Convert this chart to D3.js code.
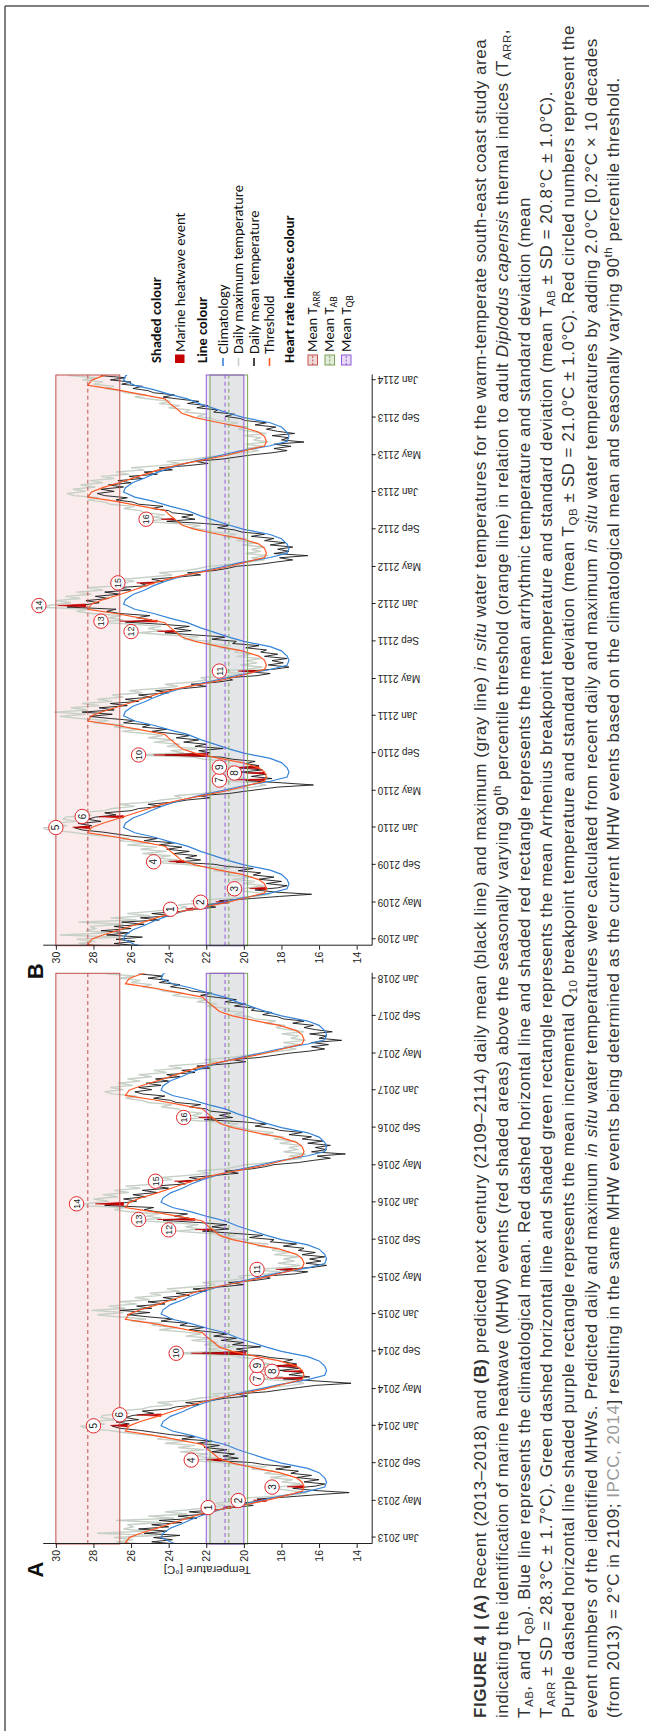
<!DOCTYPE html>
<html>
<head>
<meta charset="utf-8">
<script src="https://cdn.jsdelivr.net/npm/d3@7"></script>
<style>
  body { margin: 0; background: #fff; }
  svg { display: block; }
</style>
</head>
<body>
<svg id="fig"></svg>
<script>
// ---------------------- data ---------------------------
// weekly samples of the recent record, first sample on this date
const startDate = "2012-12-11";
const meanTemp = [
  23.6, 24.9, 23.8,
  // 2013
  24.8, 23.4, 25.3, 24.1, 25.6, 24.0, 24.9, 23.3, 24.5, 22.5, 23.5, 21.8, 22.9,
  21.4, 20.6, 19.5, 20.3, 18.9, 19.3, 17.6, 16.1, 14.4, 16.3, 17.4, 16.2, 15.7,
  16.8, 16.0, 17.2, 16.4, 17.5, 17.1, 18.3, 17.5, 18.9, 19.6, 21.6, 20.3, 21.1,
  20.5, 21.7, 20.9, 22.1, 21.3, 22.5, 21.7, 23.3, 22.6, 23.9, 24.7, 25.5, 26.6,
  // 2014
  27.0, 26.1, 26.8, 25.6, 26.3, 25.9, 24.8, 25.4, 24.0, 23.6, 22.4, 23.1, 21.7,
  21.0, 19.8, 20.4, 18.8, 18.0, 17.1, 16.2, 14.3, 16.0, 17.9, 16.5, 17.6, 16.8,
  18.1, 17.0, 18.3, 17.2, 17.9, 17.4, 18.6, 19.2, 22.2, 19.8, 20.4, 19.1, 20.6,
  20.0, 21.2, 20.4, 21.6, 20.9, 21.8, 22.9, 22.1, 23.4, 23.0, 24.4, 23.8, 25.1,
  // 2015
  26.2, 25.0, 26.6, 24.9, 25.7, 24.2, 25.1, 23.6, 24.3, 22.9, 23.6, 22.0, 22.7,
  21.2, 20.0, 20.8, 19.4, 18.6, 18.9, 17.3, 16.6, 18.1, 16.4, 15.6, 16.7, 15.9,
  16.5, 15.7, 16.9, 16.2, 17.1, 16.8, 17.9, 17.2, 18.6, 18.4, 19.7, 19.0, 20.6,
  22.2, 20.8, 21.7, 20.9, 22.4, 24.3, 22.9, 23.7, 23.0, 24.6, 25.3, 24.8, 27.4,
  // 2016
  26.5, 25.7, 26.4, 25.2, 25.9, 24.6, 25.4, 24.0, 24.8, 23.1, 23.5, 22.3, 22.9,
  21.5, 20.3, 21.0, 19.6, 18.9, 18.4, 17.1, 16.3, 15.4, 16.1, 14.6, 16.4, 15.6,
  16.2, 15.4, 16.6, 15.8, 16.9, 16.4, 17.6, 16.9, 18.1, 18.5, 19.4, 18.8, 20.1,
  22.1, 20.6, 21.3, 20.7, 21.8, 22.0, 22.9, 22.3, 23.6, 23.9, 24.8, 24.2, 25.4,
  // 2017
  25.8, 24.9, 25.6, 24.4, 25.2, 24.0, 24.7, 23.4, 24.1, 22.6, 23.3, 21.8, 22.5,
  21.0, 19.9, 20.6, 19.2, 18.4, 17.6, 16.5, 15.7, 16.4, 15.5, 16.4, 14.8, 16.0,
  15.6, 16.5, 15.3, 16.2, 16.8, 16.3, 17.4, 16.8, 17.9, 18.2, 19.0, 18.5, 19.6,
  19.4, 20.5, 19.9, 21.0, 20.4, 21.4, 22.3, 21.7, 22.8, 23.1, 23.9, 23.4, 24.5, 24.0,
  // 2018
  25.1, 24.3, 25.6
];
const maxTemp = [
  25.4, 26.8, 25.9,
  // 2013
  26.9, 24.6, 27.8, 25.2, 26.4, 25.9, 26.2, 24.4, 26.8, 23.7, 25.1, 23.0, 24.2,
  22.9, 21.8, 21.0, 21.5, 20.3, 20.8, 18.9, 17.4, 16.6, 17.6, 18.5, 17.8, 16.9,
  18.0, 17.4, 18.6, 17.5, 18.9, 18.4, 19.6, 18.8, 20.3, 21.2, 23.0, 21.5, 22.7,
  21.9, 23.4, 22.1, 23.5, 22.6, 24.2, 23.0, 24.6, 24.1, 25.3, 26.4, 27.2, 28.4,
  // 2014
  28.7, 27.4, 28.3, 26.9, 27.6, 27.5, 26.1, 26.9, 25.4, 25.0, 23.8, 24.6, 23.0,
  22.4, 21.3, 21.7, 20.2, 19.4, 18.6, 17.5, 16.8, 17.4, 19.3, 17.9, 19.0, 18.2,
  19.6, 18.3, 19.8, 18.6, 19.3, 18.9, 20.1, 20.7, 23.8, 21.2, 21.9, 20.5, 22.1,
  21.4, 22.8, 21.7, 23.1, 22.3, 23.2, 24.5, 23.5, 24.9, 24.4, 26.0, 25.2, 26.7,
  // 2015
  27.8, 26.4, 28.1, 26.3, 27.2, 25.7, 26.6, 25.0, 25.8, 24.4, 25.0, 23.4, 24.1,
  22.6, 21.5, 22.2, 20.8, 20.0, 20.3, 18.8, 18.1, 19.6, 17.8, 17.0, 18.2, 17.3,
  17.9, 17.1, 18.4, 17.6, 18.5, 18.2, 19.3, 18.7, 20.0, 19.8, 21.2, 20.4, 22.0,
  23.6, 22.3, 23.1, 22.4, 23.9, 25.8, 24.4, 25.2, 24.5, 26.1, 26.9, 26.3, 29.0,
  // 2016
  28.2, 27.2, 28.0, 26.7, 27.5, 26.1, 26.9, 25.5, 26.3, 24.6, 25.1, 23.8, 24.4,
  23.0, 21.8, 22.5, 21.1, 20.4, 19.9, 18.6, 17.8, 16.9, 17.6, 16.7, 17.9, 17.1,
  17.6, 16.9, 18.1, 17.3, 18.4, 17.9, 19.1, 18.4, 19.6, 20.0, 20.9, 20.3, 21.6,
  23.4, 22.1, 22.8, 22.2, 23.3, 23.5, 24.4, 23.8, 25.1, 25.4, 26.3, 25.7, 27.0,
  // 2017
  27.4, 26.4, 27.1, 25.9, 26.7, 25.5, 26.2, 24.9, 25.6, 24.1, 24.8, 23.3, 24.0,
  22.5, 21.4, 22.1, 20.7, 19.9, 19.1, 18.0, 17.2, 17.9, 17.0, 17.9, 16.7, 17.5,
  17.1, 18.0, 16.8, 17.7, 18.3, 17.8, 18.9, 18.3, 19.4, 19.7, 20.5, 20.0, 21.1,
  20.9, 22.0, 21.4, 22.5, 21.9, 22.9, 23.8, 23.2, 24.3, 24.6, 25.4, 24.9, 26.0, 25.5,
  // 2018
  26.6, 25.8, 27.3
];

// seasonal climatology and 90th percentile threshold (same every year)
const climDays = ["01-01","01-15","02-01","02-15","03-01","03-15","04-01","04-15",
  "05-01","05-15","06-01","06-15","07-01","07-15","08-01","08-15",
  "09-01","09-15","10-01","10-15","11-01","11-15","12-01","12-15"];
const climatology = [24.4, 24.3, 23.9, 23.3, 22.8, 22.2, 21.3, 20.4,
  19.2, 18.2, 16.6, 15.7, 15.6, 15.7, 16.0, 16.6,
  18.0, 18.8, 19.6, 20.3, 21.0, 21.9, 22.8, 23.8];
const threshold = [26.1, 25.5, 24.6, 23.9, 23.2, 22.5, 21.4, 20.2,
  18.9, 18.0, 16.9, 16.8, 16.9, 17.2, 18.1, 19.3,
  20.6, 21.3, 21.6, 21.9, 22.2, 23.4, 24.8, 26.3];

// marine heatwave events (recent record)
const eventNo    = [1, 2, 3, 4, 5, 6, 7, 8, 9, 10, 11, 12, 13, 14, 15, 16];
const eventStart = ["2013-04-06","2013-04-29","2013-06-12","2013-09-08","2013-12-28","2014-02-01",
  "2014-06-03","2014-06-25","2014-07-12","2014-08-21","2015-05-24","2015-10-01",
  "2015-11-03","2015-12-22","2016-03-07","2016-10-01"];
const eventPeak  = ["2013-04-10","2013-05-03","2013-06-16","2013-09-12","2014-01-02","2014-02-05",
  "2014-06-06","2014-06-28","2014-07-16","2014-08-26","2015-05-27","2015-10-04",
  "2015-11-06","2015-12-27","2016-03-10","2016-10-04"];
const eventEnd   = ["2013-04-14","2013-05-07","2013-06-20","2013-09-16","2014-01-06","2014-02-09",
  "2014-06-09","2014-07-01","2014-07-20","2014-08-31","2015-05-30","2015-10-07",
  "2015-11-09","2016-01-01","2016-03-13","2016-10-07"];
const eventBase  = [20.7, 18.8, 16.8, 21.2, 26.2, 24.4, 16.9, 16.9, 17.2, 19.9, 17.4, 21.7, 22.6, 26.4, 22.8, 21.7];
const eventTop   = [21.1, 19.5, 17.7, 22.0, 27.1, 25.7, 18.4, 17.9, 18.6, 22.8, 18.3, 22.6, 24.6, 27.9, 23.7, 22.4];
const labelDate  = ["2013-04-09","2013-05-02","2013-06-15","2013-09-11","2014-01-01","2014-02-06",
  "2014-06-05","2014-06-28","2014-07-17","2014-08-26","2015-05-27","2015-10-03",
  "2015-11-06","2015-12-27","2016-03-10","2016-10-04"];
const labelTemp  = [21.9, 20.3, 18.5, 22.8, 28.0, 26.6, 19.3, 18.5, 19.3, 23.6, 19.3, 24.0, 25.6, 28.9, 24.7, 23.2];

// thermal indices: mean and SD
const tARR = [28.3, 1.7];
const tAB  = [20.8, 1.0];
const tQB  = [21.0, 1.0];

const yTicks = [14, 16, 18, 20, 22, 24, 26, 28, 30];
const warming = 2.0;   // 0.2 C x 10 decades
const yearShift = 96;  // 2013 -> 2109

// ---------------------- layout ---------------------------
const W = 1731, H = 649;  // figure drawn landscape, then turned
const svg = d3.select("#fig").attr("width", H).attr("height", W);
svg.append("rect").attr("width", H).attr("height", W).attr("fill", "#fff");
const g = svg.append("g").attr("transform", "translate(0," + W + ") rotate(-90)");

const parse = d3.timeParse("%Y-%m-%d");
const axisFont = "'Liberation Sans', Arial, sans-serif";
const legendFont = "Carlito, Lato, 'Open Sans', sans-serif";

const y = d3.scaleLinear().domain([13.2, 30.7]).range([371.7, 42.7]);

const colMean = "#161616", colMax = "#c6d0c6", colClim = "#3584d8", colThr = "#ff5722", colEvent = "#c40000";
const idx = [
  { v: tARR, stroke: "#c0504d", fill: "rgba(205,70,70,0.10)" },
  { v: tAB,  stroke: "#79a356", fill: "rgba(120,170,90,0.07)" },
  { v: tQB,  stroke: "#9259d6", fill: "rgba(110,100,170,0.13)" }
];

// weekly records
const t0 = parse(startDate);
const weeks = meanTemp.map((m, i) => ({ d: d3.timeDay.offset(t0, 7 * i), mean: m, max: maxTemp[i] }));

// annual curves laid over every year of the record
const seasonal = [];
for (let yr = 2012; yr <= 2018; yr++) {
  climDays.forEach((md, i) => {
    seasonal.push({ d: parse(yr + "-" + md), clim: climatology[i], thr: threshold[i] });
  });
}

const events = eventNo.map((n, i) => ({
  n: n,
  s: parse(eventStart[i]), p: parse(eventPeak[i]), e: parse(eventEnd[i]),
  base: eventBase[i], top: eventTop[i],
  ld: parse(labelDate[i]), lt: labelTemp[i]
}));

function drawPanel(x0, x1, years, dT, letter, withTitle, id) {
  const shift = d => d3.timeYear.offset(d, years);
  const x = d3.scaleTime()
    .domain([shift(parse("2012-12-11")), shift(parse("2018-01-18"))])
    .range([x0, x1]);

  const p = g.append("g");
  p.append("clipPath").attr("id", id)
    .append("rect").attr("x", x0).attr("y", y.range()[1]).attr("width", x1 - x0).attr("height", y.range()[0] - y.range()[1]);

  // shaded index rectangles
  idx.forEach(r => {
    p.append("rect")
      .attr("x", x0).attr("width", x1 - x0)
      .attr("y", y(r.v[0] + r.v[1])).attr("height", y(r.v[0] - r.v[1]) - y(r.v[0] + r.v[1]))
      .attr("fill", r.fill);
  });

  const data = p.append("g").attr("clip-path", "url(#" + id + ")");
  const lineOf = key => d3.line().x(d => x(shift(d.d))).y(d => y(d[key] + dT));

  data.append("path").datum(weeks).attr("d", lineOf("max"))
    .attr("fill", "none").attr("stroke", colMax).attr("stroke-width", 1.4);
  data.append("path").datum(weeks).attr("d", lineOf("mean"))
    .attr("fill", "none").attr("stroke", colMean).attr("stroke-width", 0.9);

  // heatwave events, shaded above the threshold
  data.selectAll(".ev").data(events).join("path")
    .attr("d", e => d3.line()([
      [x(shift(e.s)), y(e.base + dT)], [x(shift(e.p)), y(e.top + dT)], [x(shift(e.e)), y(e.base + dT)]
    ]) + "Z")
    .attr("fill", colEvent).attr("stroke", colEvent).attr("stroke-width", 0.6);

  data.append("path").datum(seasonal).attr("d", lineOf("clim"))
    .attr("fill", "none").attr("stroke", colClim).attr("stroke-width", 1.2);
  data.append("path").datum(seasonal).attr("d", lineOf("thr"))
    .attr("fill", "none").attr("stroke", colThr).attr("stroke-width", 1.2);

  // index rectangle outlines and dashed means
  idx.forEach(r => {
    p.append("rect")
      .attr("x", x0).attr("width", x1 - x0)
      .attr("y", y(r.v[0] + r.v[1])).attr("height", y(r.v[0] - r.v[1]) - y(r.v[0] + r.v[1]))
      .attr("fill", "none").attr("stroke", r.stroke).attr("stroke-width", 1);
    p.append("line")
      .attr("x1", x0).attr("x2", x1).attr("y1", y(r.v[0])).attr("y2", y(r.v[0]))
      .attr("stroke", r.stroke).attr("stroke-width", 1).attr("stroke-dasharray", "4,3");
  });

  // circled event numbers
  const lab = p.selectAll(".lab").data(events).join("g")
    .attr("transform", e => "translate(" + x(shift(e.ld)) + "," + y(e.lt + dT) + ")");
  lab.append("circle").attr("r", 7.2).attr("fill", "#fff").attr("stroke", "#e3262b").attr("stroke-width", 1);
  lab.append("text").text(e => e.n)
    .attr("text-anchor", "middle").attr("dy", "0.36em")
    .attr("font-family", axisFont).attr("font-size", e => e.n > 9 ? 9 : 10).attr("fill", "#222");

  // axes
  const ya = p.append("g").attr("transform", "translate(" + x0 + ",0)")
    .call(d3.axisLeft(y).tickValues(yTicks).tickSize(4).tickSizeOuter(0).tickPadding(2));
  ya.selectAll("text").attr("font-family", axisFont).attr("font-size", 10.5).attr("fill", "#222");

  const xa = p.append("g").attr("transform", "translate(0," + y.range()[0] + ")")
    .call(d3.axisBottom(x).ticks(d3.timeMonth.every(4)).tickFormat(d3.timeFormat("%b %Y")).tickSize(4).tickSizeOuter(0));
  xa.selectAll("text")
    .attr("transform", "rotate(-90)").attr("text-anchor", "end")
    .attr("x", -6).attr("y", 0).attr("dy", "0.35em")
    .attr("font-family", axisFont).attr("font-size", 10).attr("fill", "#222");
  p.selectAll(".domain, .tick line").attr("stroke", "#222");

  p.append("text").text(letter)
    .attr("x", x0 - 25.5).attr("y", 43).attr("text-anchor", "middle")
    .attr("font-family", axisFont).attr("font-weight", "bold").attr("font-size", 22).attr("fill", "#111");

  if (withTitle) {
    p.append("text").text("Temperature [°C]")
      .attr("transform", "translate(" + (x0 - 26) + "," + ((y.range()[0] + y.range()[1]) / 2) + ") rotate(-90)")
      .attr("text-anchor", "middle").attr("dy", "0.35em")
      .attr("font-family", axisFont).attr("font-size", 11.5).attr("fill", "#222");
  }
}

drawPanel(187, 757.7, 0, 0, "A", true, "clipA");
drawPanel(785.3, 1356, yearShift, warming, "B", false, "clipB");

// ---------------------- legend ---------------------------
const lg = g.append("g").attr("font-family", legendFont).attr("font-size", 14.5).attr("fill", "#111");
const lx = 1368;
lg.append("text").text("Shaded colour").attr("x", lx).attr("y", 161).attr("font-weight", "bold");
lg.append("rect").attr("x", lx).attr("y", 175).attr("width", 8.5).attr("height", 9.5).attr("fill", colEvent);
lg.append("text").text("Marine heatwave event").attr("x", lx + 11).attr("y", 184.5);
lg.append("text").text("Line colour").attr("x", lx).attr("y", 207).attr("font-weight", "bold");
[
  ["Climatology", colClim, 223],
  ["Daily maximum temperature", colMax, 238.5],
  ["Daily mean temperature", colMean, 254],
  ["Threshold", colThr, 269.5]
].forEach(([t, c, yy]) => {
  lg.append("line").attr("x1", lx - 3).attr("x2", lx + 5).attr("y1", yy).attr("y2", yy)
    .attr("stroke", c).attr("stroke-width", 1.6);
  lg.append("text").text(t).attr("x", lx + 9).attr("y", yy + 4.8);
});
lg.append("text").text("Heart rate indices colour").attr("x", lx).attr("y", 294).attr("font-weight", "bold");
[["ARR", 308], ["AB", 325], ["QB", 341.5]].forEach(([sub, yy], i) => {
  const r = idx[i];
  lg.append("rect").attr("x", lx - 2).attr("y", yy).attr("width", 10).attr("height", 9.5)
    .attr("fill", d3.color(r.stroke).copy({ opacity: 0.22 })).attr("stroke", r.stroke).attr("stroke-width", 1);
  lg.append("line").attr("x1", lx - 2).attr("x2", lx + 8).attr("y1", yy + 4.75).attr("y2", yy + 4.75)
    .attr("stroke", r.stroke).attr("stroke-width", 1).attr("stroke-dasharray", "2,1.5");
  const t = lg.append("text").attr("x", lx + 11).attr("y", yy + 9);
  t.append("tspan").text("Mean T");
  t.append("tspan").text(sub).attr("font-size", 10).attr("dy", 2.5);
});

// ---------------------- caption ---------------------------
const captionLines = [
  [["FIGURE 4 | (A)", "b"], [" Recent (2013–2018) and "], ["(B)", "b"], [" predicted next century (2109–2114) daily mean (black line) and maximum (gray line) "], ["in situ", "i"], [" water temperatures for the warm-temperate south-east coast study area"]],
  [["indicating the identification of marine heatwave (MHW) events (red shaded areas) above the seasonally varying 90"], ["th", "sup"], [" percentile threshold (orange line) in relation to adult "], ["Diplodus capensis", "i"], [" thermal indices (T"], ["ARR", "sub"], [","]],
  [["T"], ["AB", "sub"], [", and T"], ["QB", "sub"], ["). Blue line represents the climatological mean. Red dashed horizontal line and shaded red rectangle represents the mean arrhythmic temperature and standard deviation (mean"]],
  [["T"], ["ARR", "sub"], [" ± SD = 28.3°C ± 1.7°C). Green dashed horizontal line and shaded green rectangle represents the mean Arrhenius breakpoint temperature and standard deviation (mean T"], ["AB", "sub"], [" ± SD = 20.8°C ± 1.0°C)."]],
  [["Purple dashed horizontal line shaded purple rectangle represents the mean incremental Q"], ["10", "sub"], [" breakpoint temperature and standard deviation (mean T"], ["QB", "sub"], [" ± SD = 21.0°C ± 1.0°C). Red circled numbers represent the"]],
  [["event numbers of the identified MHWs. Predicted daily and maximum "], ["in situ", "i"], [" water temperatures were calculated from recent daily and maximum "], ["in situ", "i"], [" water temperatures by adding 2.0°C [0.2°C × 10 decades"]],
  [["(from 2013) = 2°C in 2109; "], ["IPCC, 2014", "link"], ["] resulting in the same MHW events being determined as the current MHW events based on the climatological mean and seasonally varying 90"], ["th", "sup"], [" percentile threshold."]]
];

const cap = g.append("g").attr("font-family", axisFont).attr("font-size", 17)
  .attr("letter-spacing", 0.54).attr("fill", "#333");
captionLines.forEach((segs, li) => {
  const t = cap.append("text").attr("x", 13).attr("y", 485.5 + li * 22.2);
  let off = 0;
  segs.forEach(([txt, st]) => {
    const s = t.append("tspan").text(txt);
    let target = 0;
    if (st === "b") s.attr("font-weight", "bold");
    if (st === "i") s.attr("font-style", "italic");
    if (st === "link") s.attr("fill", "#9a9a9a");
    if (st === "sub") { s.attr("font-size", 11.5); target = 3; }
    if (st === "sup") { s.attr("font-size", 11.5); target = -6.5; }
    if (target !== off) { s.attr("dy", target - off); off = target; }
  });
});

// figure frame
g.append("line").attr("x1", 0).attr("x2", 1725).attr("y1", 5).attr("y2", 5).attr("stroke", "#555").attr("stroke-width", 1.5);
g.append("line").attr("x1", 1725).attr("x2", 1725).attr("y1", 5).attr("y2", H).attr("stroke", "#555").attr("stroke-width", 1.5);
</script>
</body>
</html>
